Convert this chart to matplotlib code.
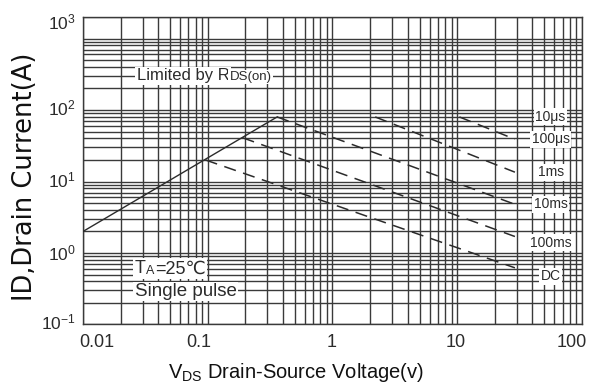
import numpy as np
import matplotlib.pyplot as plt
from matplotlib.ticker import LogLocator, NullFormatter
from matplotlib.transforms import ScaledTranslation, Bbox
from matplotlib.patches import Rectangle

plt.rcParams['font.family'] = ['Liberation Sans', 'DejaVu Sans']
plt.rcParams['mathtext.fontset'] = 'custom'
plt.rcParams['mathtext.rm'] = 'Liberation Sans'

# --- SOA data (V, A) ---
rds_vds = [0.01, 0.36]
rds_id = [2.0, 80.0]

pulse_names = ['100μs', '1ms', '10ms', '100ms', 'DC']
pulse_vds = [[10.4, 29], [2.2, 29], [0.36, 29], [0.19, 29], [0.096, 29]]
pulse_id = [[80, 39], [80, 13.5], [80, 4.8], [41, 1.7], [20, 0.62]]

curve_labels = ['10μs', '100μs', '1ms', '10ms', '100ms', 'DC']
curve_label_id = [81, 39, 13.4, 4.8, 1.4, 0.47]
curve_label_vds = 56

x_ticks = [0.01, 0.1, 1, 10, 100]
x_ticklabels = ['0.01', '0.1', '1', '10', '100']
y_ticks = [0.1, 1, 10, 100, 1000]
y_ticklabels = [r'$\mathregular{10^{-1}}$', r'$\mathregular{10^{0}}$',
                r'$\mathregular{10^{1}}$', r'$\mathregular{10^{2}}$',
                r'$\mathregular{10^{3}}$']

GRID = '#3a3a3a'
INK = '#2b2b2b'
box = dict(facecolor='white', edgecolor='none', pad=1.0)

fig = plt.figure(figsize=(5.89, 3.88), dpi=100)
ax = fig.add_axes([0.1409, 0.1637, 0.8472, 0.7925])
ax.set_xscale('log')
ax.set_yscale('log')
ax.set_xlim(0.01, 100)
ax.set_ylim(0.1, 2000)

for axis in (ax.xaxis, ax.yaxis):
    axis.set_minor_locator(LogLocator(base=10, subs=np.arange(2, 10), numticks=20))
    axis.set_minor_formatter(NullFormatter())
ax.grid(True, which='both', color=GRID, lw=1.0)
ax.set_axisbelow(True)
ax.tick_params(which='both', length=0)
ax.tick_params(axis='x', labelsize=13, pad=7, labelcolor=INK)
ax.tick_params(axis='y', labelsize=12.5, pad=5, labelcolor=INK)
for sp in ax.spines.values():
    sp.set_color(GRID)
    sp.set_linewidth(1.0)

ax.set_xticks(x_ticks)
ax.set_xticklabels(x_ticklabels)
ax.set_yticks(y_ticks)
ax.set_yticklabels(y_ticklabels)

# nudge tick labels the way the printed sheet has them
x_shift = [14, -9, -1, -2, -10]
y_shift = [3.5, 1, 3, 3, 18]
for lab, dx in zip(ax.get_xticklabels(), x_shift):
    lab.set_transform(lab.get_transform() + ScaledTranslation(dx / 100, 0, fig.dpi_scale_trans))
for lab, dy in zip(ax.get_yticklabels(), y_shift):
    lab.set_transform(lab.get_transform() + ScaledTranslation(0, dy / 100, fig.dpi_scale_trans))

# RDS(on) limit and pulse-width lines
ax.plot(rds_vds, rds_id, color=INK, lw=1.0, zorder=3)
for v, i in zip(pulse_vds, pulse_id):
    ax.plot(v, i, color=INK, lw=1.1, ls=(0, (8, 5)), zorder=3)

for name, y in zip(curve_labels, curve_label_id):
    ax.text(curve_label_vds, y, name, fontsize=10, color=INK, ha='center', va='center',
            bbox=box, zorder=4)

# annotations
t = ax.text(0.027, 300, 'Limited by R', fontsize=12, color=INK, ha='left', va='center',
            bbox=box, zorder=4)
ax.annotate('DS(on)', xy=(1, 0), xycoords=t, fontsize=9.5, color=INK, ha='left', va='bottom',
            bbox=dict(facecolor='white', edgecolor='none', pad=0.8), zorder=4)

t1 = ax.text(0.026, 0.6, 'T', fontsize=13, color=INK, ha='left', va='center', zorder=5)
t2 = ax.annotate('A', xy=(1, 0), xycoords=t1, fontsize=9, color=INK, ha='left', va='bottom',
                 zorder=5)
t3 = ax.annotate('=25℃', xy=(1, 0), xycoords=t2, xytext=(0.5, 0), textcoords='offset points',
                 fontsize=13, color=INK, ha='left', va='bottom', zorder=5)
ax.text(0.026, 0.29, 'Single pulse', fontsize=13.5, color=INK, ha='left', va='center',
        bbox=box, zorder=4)

ax.set_xlabel(r'V$_{\mathregular{DS}}$ Drain-Source Voltage(v)', fontsize=14.5, color='#111',
              va='baseline')
ax.xaxis.set_label_coords(0.427, -0.174)
ax.set_ylabel('ID,Drain Current(A)', fontsize=18.5, family='DejaVu Sans', color='#111',
              va='center')
ax.yaxis.set_label_coords(-0.117, 0.48)

# white backing behind the three-piece temperature note
fig.canvas.draw()
r = fig.canvas.get_renderer()
bb = Bbox.union([a.get_window_extent(r) for a in (t1, t2, t3)]).expanded(1.0, 1.0).padded(2)
bb = bb.transformed(ax.transAxes.inverted())
ax.add_patch(Rectangle((bb.x0, bb.y0), bb.width, bb.height, transform=ax.transAxes,
                       facecolor='white', edgecolor='none', zorder=4))

fig.savefig('out.png', dpi=100)
